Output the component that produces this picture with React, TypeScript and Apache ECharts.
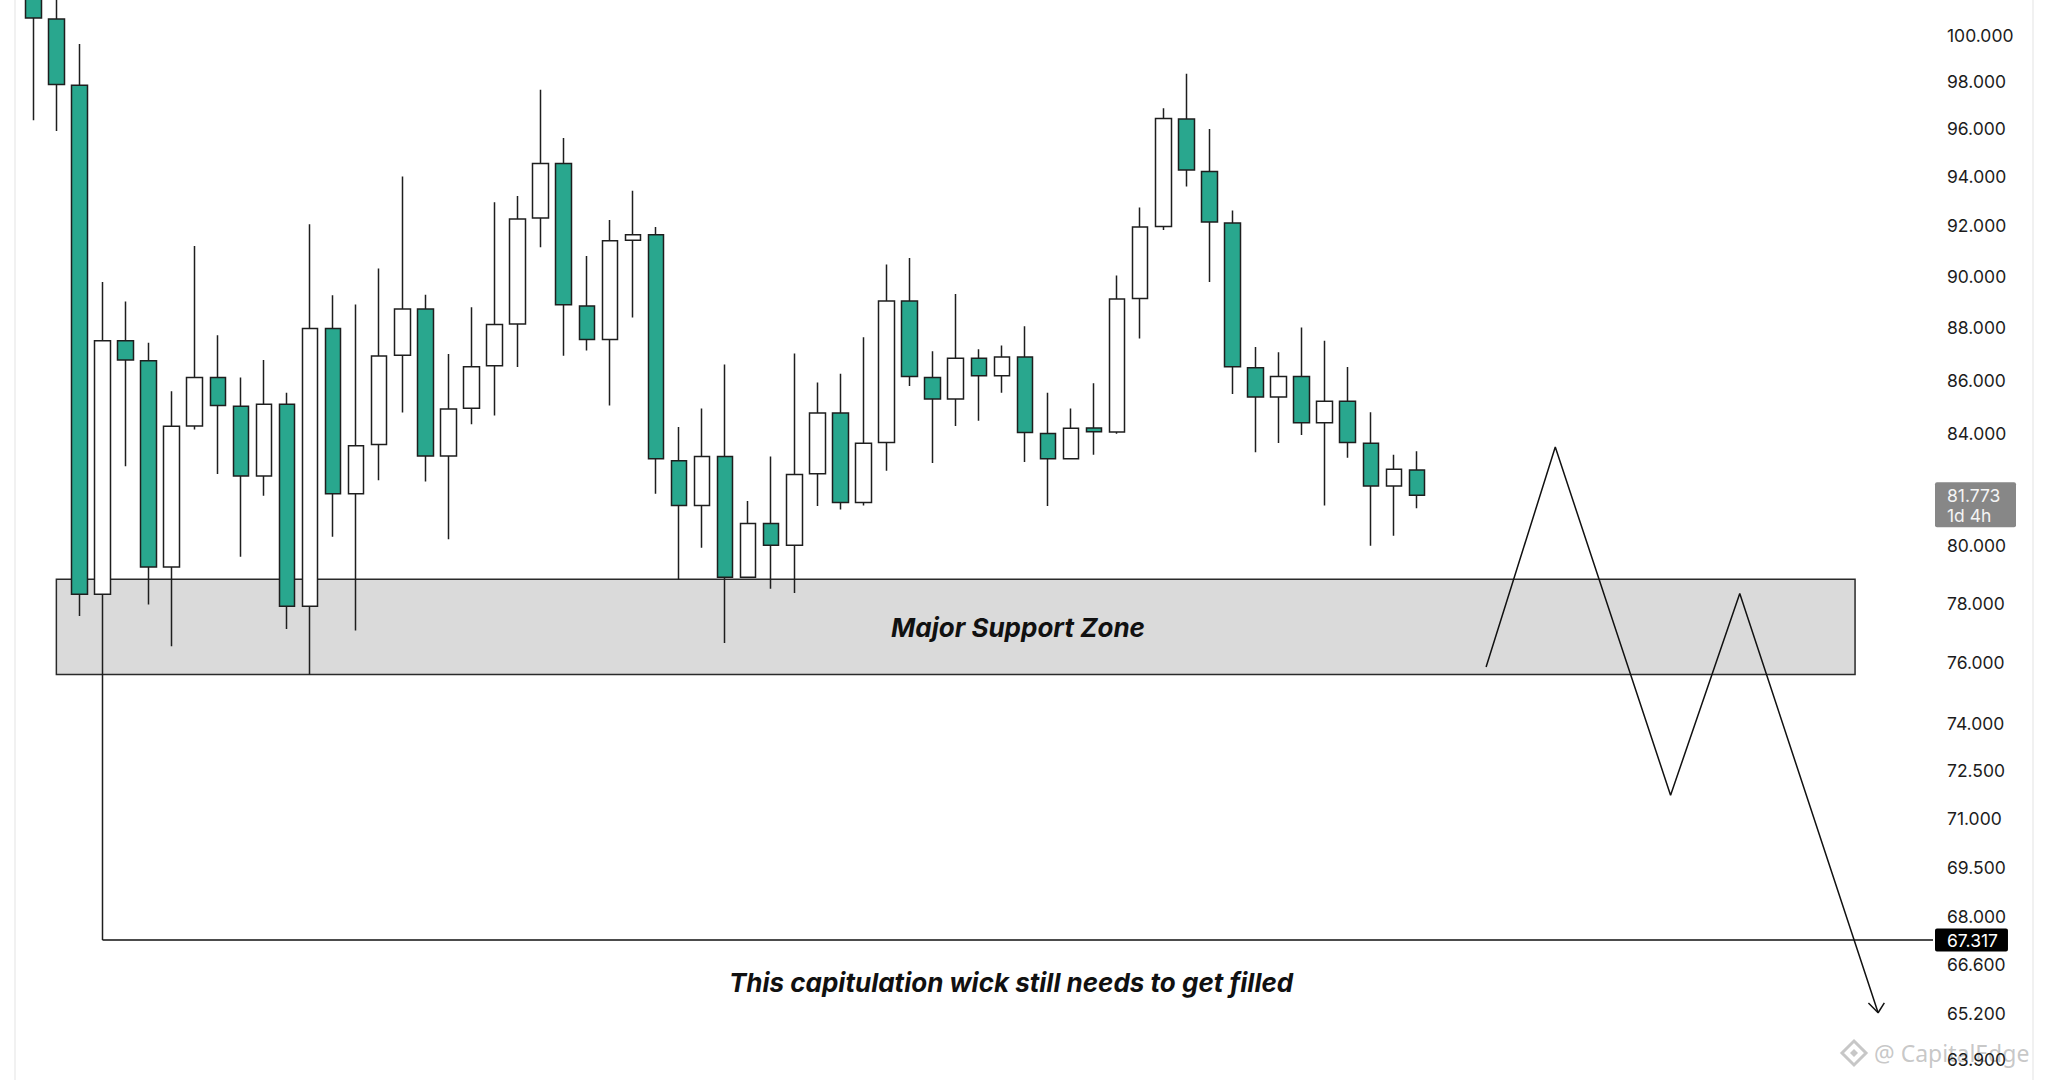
import { useEffect, useRef } from "react";
import * as echarts from "echarts";

// ---- OHLC data (bar index = position in arrays) ----
const opens = [
  102.5, 100.72, 97.84, 78.31, 87.5, 86.73, 79.25, 84.29, 86.1, 85.02,
  82.47, 85.1, 77.9, 87.97, 81.83, 83.61, 86.94, 88.72, 83.19, 84.95,
  86.54, 88.14, 92.32, 94.55, 88.84, 87.54, 91.43, 91.65, 83.02, 81.41,
  83.18, 78.9, 80.77, 80.01, 82.55, 84.77, 81.52, 83.69, 89.03, 86.1,
  85.29, 86.83, 86.17, 86.88, 84.02, 83.09, 84.22, 84.07, 89.13, 91.98,
  96.41, 94.22, 92.12, 86.47, 85.37, 86.14, 84.41, 85.21, 83.66, 82.11,
  82.69,
];
const closes = [
  100.76, 97.87, 78.31, 87.5, 86.76, 79.25, 84.28, 86.1, 85.05, 82.47,
  85.1, 77.9, 87.97, 81.83, 83.57, 86.91, 88.72, 83.19, 84.92, 86.51,
  88.12, 92.28, 94.55, 88.88, 87.54, 91.41, 91.65, 83.09, 81.41, 83.18,
  78.9, 80.77, 80.01, 82.52, 84.77, 81.52, 83.66, 89.03, 86.14, 85.29,
  86.83, 86.17, 86.88, 84.05, 83.09, 84.21, 84.08, 89.11, 91.96, 96.43,
  94.28, 92.16, 86.51, 85.37, 86.14, 84.41, 85.21, 83.69, 82.11, 82.71,
  81.773,
];
const lows = [
  96.36, 95.9, 77.57, 67.317, 82.82, 77.96, 76.55, 84.16, 82.54, 79.61,
  81.76, 77.13, 75.61, 80.31, 77.08, 82.32, 84.79, 82.27, 80.22, 84.36,
  84.68, 86.5, 91.15, 86.92, 87.12, 85.05, 88.39, 81.83, 78.83, 79.92,
  76.66, 78.87, 78.5, 78.35, 81.39, 81.27, 81.41, 82.66, 85.78, 82.94,
  84.29, 84.49, 85.53, 82.98, 81.39, 83.09, 83.24, 84.01, 87.58, 91.84,
  93.6, 89.77, 85.48, 83.33, 83.67, 83.96, 81.41, 83.13, 79.99, 80.34,
  81.31,
];
const highs = [
  103.6, 102.2, 99.62, 89.77, 89.01, 87.42, 85.58, 91.2, 87.71, 86.1,
  86.76, 85.53, 92.07, 89.25, 88.89, 90.31, 94.01, 89.27, 86.99, 88.79,
  92.96, 93.21, 97.65, 95.61, 90.8, 92.24, 93.43, 91.96, 84.26, 84.94,
  86.59, 81.57, 83.18, 87.01, 85.91, 86.24, 87.63, 90.46, 90.72, 87.09,
  89.3, 87.17, 87.31, 88.05, 85.53, 84.94, 85.88, 90.03, 92.75, 96.86,
  98.34, 95.99, 92.63, 87.26, 87.06, 88.0, 87.5, 86.5, 84.8, 83.24,
  83.37,
];

// ---- price axis ticks ----
const priceTicks = [
  100, 98, 96, 94, 92, 90, 88, 86, 84, 80, 78, 76, 74, 72.5, 71, 69.5, 68,
  66.6, 65.2, 63.9,
];
const lastPrice = 81.773;
const lastPriceTimer = "1d 4h";
const wickLevel = 67.317;
const wickStartBar = 3;

// ---- drawings ----
const zoneBars = [1, 79];
const zonePrices = [75.61, 78.83];
const zoneText = "Major Support Zone";
const zoneTextAt = [42.7, 77.19];
const noteText = "This capitulation wick still needs to get filled";
const noteTextAt = [42.4, 66.08];
const pathBars = [63, 66, 71, 74, 80];
const pathPrices = [75.86, 83.52, 71.72, 78.34, 65.21];
const arrowBars = [79.58, 80, 80.27];
const arrowPrices = [65.49, 65.21, 65.49];
const watermark = "@ CapitalEdge";

// ---- visible ranges ----
const barRange = [-0.794, 82.38];
const priceRange = [63.32, 101.56];

const TEAL = "#29a78e";
const INK = "#1c1c1c";
const FONT = "Inter";

export default function App() {
  const ref = useRef<HTMLDivElement>(null);

  useEffect(() => {
    if (!ref.current) return;
    const chart = echarts.init(ref.current, undefined, { renderer: "svg" });

    const candles = opens.map((o, i) => [i, o, closes[i], lows[i], highs[i]]);
    const textLabel = {
      show: true,
      position: "inside",
      color: "#111111",
      fontFamily: FONT,
      fontWeight: "bold",
      fontStyle: "italic",
      fontSize: 26,
    };

    chart.setOption({
      animation: false,
      backgroundColor: "#ffffff",
      grid: {
        left: 15,
        right: 115,
        top: 0,
        bottom: 0,
        containLabel: false,
        outerBoundsMode: "none",
      },
      xAxis: {
        type: "value",
        min: barRange[0],
        max: barRange[1],
        show: false,
      },
      yAxis: {
        type: "log",
        logBase: 10,
        min: priceRange[0],
        max: priceRange[1],
        position: "right",
        axisLine: { show: false },
        axisTick: { show: false },
        splitLine: { show: false },
        axisLabel: {
          customValues: priceTicks,
          formatter: (v: number) => v.toFixed(3),
          margin: 14,
          fontFamily: FONT,
          fontSize: 17.5,
          color: INK,
          align: "left",
        },
      },
      series: [
        {
          type: "candlestick",
          data: candles,
          barWidth: 16,
          silent: true,
          itemStyle: {
            color: "#ffffff",
            color0: TEAL,
            borderColor: "#1e1e1e",
            borderColor0: "#1e1e1e",
            borderWidth: 1.5,
          },
          markArea: {
            silent: true,
            itemStyle: {
              color: "#dadada",
              borderColor: "#2a2a2a",
              borderWidth: 1.5,
            },
            label: { show: false },
            data: [
              [
                { coord: [zoneBars[0], zonePrices[1]] },
                { coord: [zoneBars[1], zonePrices[0]] },
              ],
            ],
          },
          markLine: {
            silent: true,
            symbol: ["none", "none"],
            lineStyle: { color: "#111111", width: 1.5, type: "solid" },
            data: [
              [
                { coord: [wickStartBar, wickLevel] },
                { coord: [barRange[1], wickLevel] },
              ],
            ],
            label: {
              show: true,
              position: "end",
              distance: 2,
              formatter: wickLevel.toFixed(3),
              color: "#ffffff",
              backgroundColor: "#000000",
              borderRadius: 2,
              padding: [2, 10, 1, 12],
              fontFamily: FONT,
              fontSize: 17.5,
              lineHeight: 20,
            },
          },
          markPoint: {
            silent: true,
            symbol: "circle",
            symbolSize: 1,
            itemStyle: { color: "transparent" },
            data: [
              { coord: zoneTextAt, label: { ...textLabel, formatter: zoneText } },
              { coord: noteTextAt, label: { ...textLabel, formatter: noteText } },
            ],
          },
        },
        {
          type: "line",
          data: pathBars.map((b, i) => [b, pathPrices[i]]),
          symbol: "none",
          silent: true,
          z: 4,
          lineStyle: { color: "#111111", width: 1.5 },
        },
        {
          type: "line",
          data: arrowBars.map((b, i) => [b, arrowPrices[i]]),
          symbol: "none",
          silent: true,
          z: 4,
          lineStyle: { color: "#111111", width: 1.5 },
        },
      ],
    });

    const gx = chart.convertToPixel({ xAxisIndex: 0 }, barRange[1]) as number;
    const py = chart.convertToPixel({ yAxisIndex: 0 }, lastPrice) as number;
    const W = chart.getWidth();
    const H = chart.getHeight();
    const wy = H - 27;
    const wm = "rgba(175,175,175,0.7)";

    chart.setOption({
      graphic: [
        { type: "rect", left: 14, top: 0, shape: { width: 2, height: H }, style: { fill: "#f1f1f1" }, silent: true },
        { type: "rect", left: W - 16, top: 0, shape: { width: 2, height: H }, style: { fill: "#f1f1f1" }, silent: true },
        {
          type: "group",
          silent: true,
          z: 10,
          children: [
            { type: "rect", shape: { x: gx + 2, y: py - 13, width: 81, height: 45, r: 2 }, style: { fill: "#878787" } },
            { type: "text", style: { text: lastPrice.toFixed(3), x: gx + 14, y: py, fill: "#f4f4f4", font: `17.5px ${FONT}`, verticalAlign: "middle" } },
            { type: "text", style: { text: lastPriceTimer, x: gx + 14, y: py + 20.5, fill: "#f4f4f4", font: `17.5px ${FONT}`, verticalAlign: "middle" } },
          ],
        },
        {
          type: "group",
          silent: true,
          z: 20,
          children: [
            { type: "polygon", shape: { points: [[1854, wy - 12], [1866, wy], [1854, wy + 12], [1842, wy]] }, style: { fill: "none", stroke: wm, lineWidth: 3 } },
            { type: "polygon", shape: { points: [[1854, wy - 4], [1858, wy], [1854, wy + 4], [1850, wy]] }, style: { fill: wm } },
            { type: "text", style: { text: watermark, x: 1874, y: wy, fill: wm, font: `23px 'Noto Sans'`, verticalAlign: "middle" } },
          ],
        },
      ],
    });

    return () => chart.dispose();
  }, []);

  return (
    <div
      ref={ref}
      style={{ position: "fixed", left: 0, top: 0, width: 2048, height: 1080, background: "#ffffff" }}
    />
  );
}
